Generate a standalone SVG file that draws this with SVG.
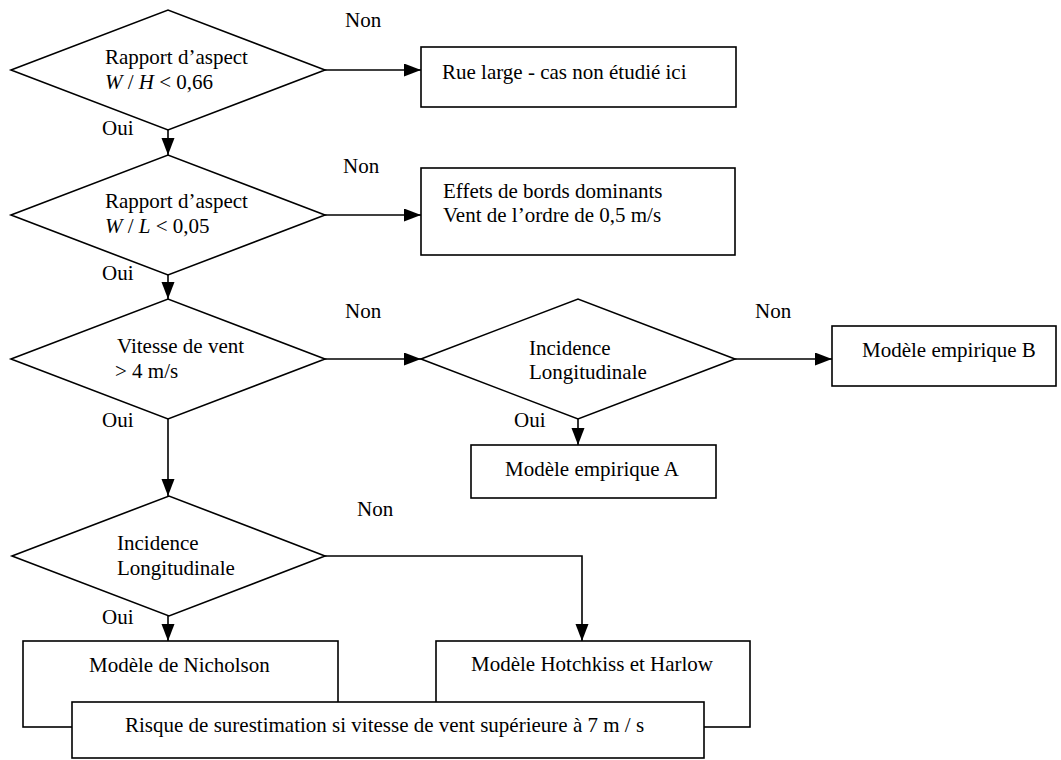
<svg xmlns="http://www.w3.org/2000/svg" width="1061" height="760" viewBox="0 0 1061 760">
<style>
.s{fill:#fff;stroke:#000;stroke-width:1.6}
.c{fill:none;stroke:#000;stroke-width:1.6}
text{font-family:"Liberation Serif","Times New Roman",serif;font-size:21px;fill:#000}
.i{font-style:italic}
</style>
<defs>
<marker id="a" markerUnits="userSpaceOnUse" markerWidth="18" markerHeight="14" refX="17" refY="6.5" orient="auto">
<path d="M0,0 L17,6.5 L0,13 Z" fill="#000"/>
</marker>
</defs>
<rect width="1061" height="760" fill="#fff"/>
<g id="connectors">
<line class="c" x1="325" y1="70" x2="421" y2="70" marker-end="url(#a)"/>
<line class="c" x1="168" y1="130" x2="168" y2="155" marker-end="url(#a)"/>
<line class="c" x1="325" y1="215" x2="421" y2="215" marker-end="url(#a)"/>
<line class="c" x1="168" y1="275" x2="168" y2="299" marker-end="url(#a)"/>
<line class="c" x1="325" y1="359" x2="421" y2="359" marker-end="url(#a)"/>
<line class="c" x1="735" y1="359" x2="832" y2="359" marker-end="url(#a)"/>
<line class="c" x1="578" y1="419" x2="578" y2="445" marker-end="url(#a)"/>
<line class="c" x1="168" y1="419" x2="168" y2="496" marker-end="url(#a)"/>
<line class="c" x1="168" y1="616" x2="168" y2="641" marker-end="url(#a)"/>
<polyline class="c" points="325,556 582,556 582,641" marker-end="url(#a)"/>
<text x="345" y="27">Non</text>
<text x="343" y="173">Non</text>
<text x="345" y="318">Non</text>
<text x="755" y="318">Non</text>
<text x="357" y="516">Non</text>
<text x="102" y="135">Oui</text>
<text x="102" y="280">Oui</text>
<text x="102" y="427">Oui</text>
<text x="514" y="427">Oui</text>
<text x="102" y="624">Oui</text>
</g>
<g id="d1">
<polygon class="s" points="11,70 168,10 325,70 168,130"/>
<text x="105" y="64">Rapport d’aspect</text>
<text x="105" y="89"><tspan class="i">W</tspan> / <tspan class="i">H</tspan> &lt; 0,66</text>
</g>
<g id="b1">
<rect class="s" x="421" y="47" width="315" height="60"/>
<text x="442" y="79">Rue large - cas non étudié ici</text>
</g>
<g id="d2">
<polygon class="s" points="11,215 168,155 325,215 168,275"/>
<text x="105" y="208">Rapport d’aspect</text>
<text x="105" y="233"><tspan class="i">W</tspan> / <tspan class="i">L</tspan> &lt; 0,05</text>
</g>
<g id="b2">
<rect class="s" x="421" y="168" width="314" height="87"/>
<text x="443" y="198">Effets de bords dominants</text>
<text x="443" y="222">Vent de l’ordre de 0,5 m/s</text>
</g>
<g id="d3">
<polygon class="s" points="11,359 168,299 325,359 168,419"/>
<text x="117" y="353">Vitesse de vent</text>
<text x="115" y="378">&gt; 4 m/s</text>
</g>
<g id="d4">
<polygon class="s" points="421,359 578,299 735,359 578,419"/>
<text x="529" y="355">Incidence</text>
<text x="529" y="379">Longitudinale</text>
</g>
<g id="bB">
<rect class="s" x="832" y="326" width="224" height="60"/>
<text x="862" y="357">Modèle empirique B</text>
</g>
<g id="bA">
<rect class="s" x="471" y="445" width="245" height="53"/>
<text x="505" y="476">Modèle empirique A</text>
</g>
<g id="d5">
<polygon class="s" points="12,556 169,496 325,556 169,616"/>
<text x="117" y="550">Incidence</text>
<text x="117" y="575">Longitudinale</text>
</g>
<g id="bN">
<rect class="s" x="23" y="641" width="315" height="86"/>
<text x="89" y="672">Modèle de Nicholson</text>
</g>
<g id="bH">
<rect class="s" x="436" y="641" width="314" height="86"/>
<text x="471" y="671">Modèle Hotchkiss et Harlow</text>
</g>
<g id="bR">
<rect class="s" x="72" y="702" width="632" height="56"/>
<text x="125" y="732">Risque de surestimation si vitesse de vent supérieure à 7 m / s</text>
</g>
</svg>
